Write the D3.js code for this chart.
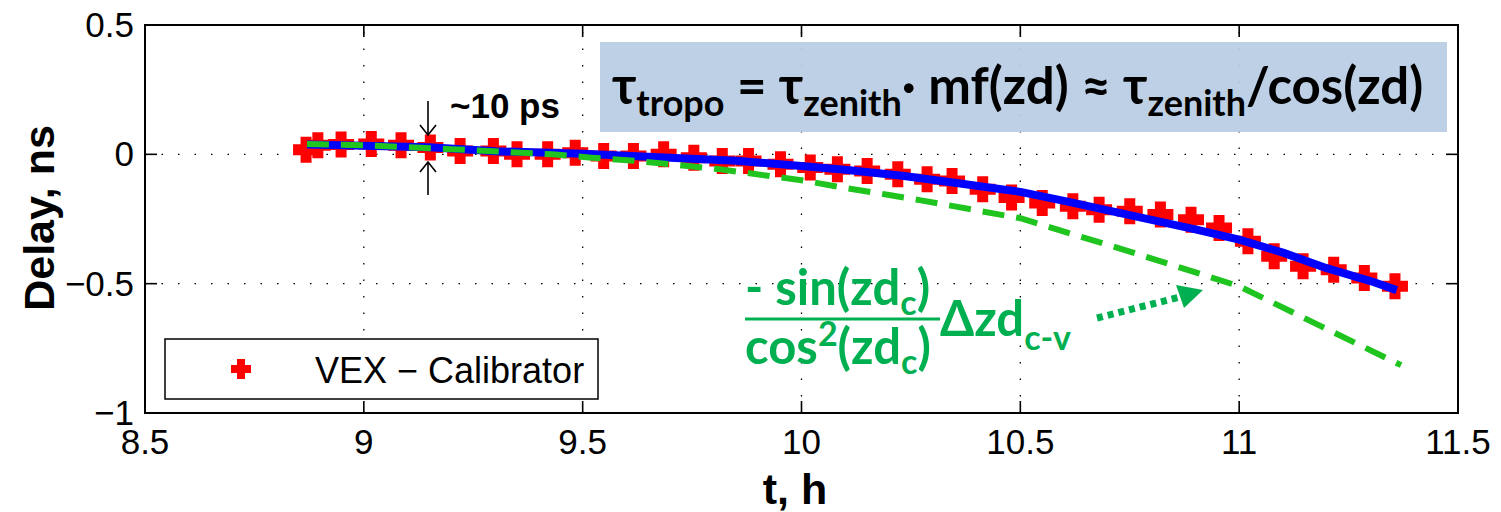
<!DOCTYPE html>
<html>
<head>
<meta charset="utf-8">
<script src="https://cdn.jsdelivr.net/npm/d3@7.9.0/dist/d3.min.js"></script>
<style>
  body { margin: 0; background: #fff; }
  svg { display: block; }
  .tick-label { font-family: "Liberation Sans", Arial, sans-serif; font-size: 35px; fill: #000; }
  .title { font-family: "Liberation Sans", Arial, sans-serif; font-weight: bold; font-size: 43px; fill: #000; }
  .calibri { font-family: Lato, "Open Sans", sans-serif; font-weight: bold; }
</style>
</head>
<body>
<svg id="chart" width="1501" height="512"></svg>
<script>
// measured points (VEX - Calibrator)
const redT = [8.868, 8.895, 8.948, 9.017, 9.085, 9.152, 9.22, 9.296, 9.35, 9.42, 9.483, 9.548, 9.616,
  9.685, 9.754, 9.819, 9.879, 9.952, 10.02, 10.082, 10.15, 10.22, 10.287, 10.344, 10.414, 10.48,
  10.55, 10.62, 10.68, 10.75, 10.82, 10.89, 10.954, 11.02, 11.08, 11.146, 11.216, 11.286, 11.356];
const redD = [0.018, 0.035, 0.038, 0.04, 0.035, 0.026, 0.013, 0.013, 0, 0, 0.006, -0.006, -0.006,
  0, -0.013, -0.026, -0.026, -0.038, -0.051, -0.058, -0.064, -0.077, -0.096, -0.103, -0.135, -0.167,
  -0.188, -0.201, -0.214, -0.22, -0.233, -0.253, -0.285, -0.336, -0.394, -0.433, -0.446, -0.478, -0.51];

// blue fit line
const blueT = [8.87, 9.0, 9.15, 9.3, 9.5, 9.7, 9.85, 10.0, 10.1, 10.23, 10.35, 10.5, 10.6, 10.75,
  10.9, 11.0, 11.1, 11.2, 11.3, 11.36];
const blueD = [0.038, 0.033, 0.027, 0.012, 0.002, -0.013, -0.025, -0.045, -0.06, -0.083, -0.11, -0.145,
  -0.18, -0.235, -0.29, -0.33, -0.38, -0.44, -0.49, -0.525];

// green dashed model
const greenT = [8.87, 9.0, 9.2, 9.43, 9.52, 9.62, 9.81, 10.0, 10.1, 10.2, 10.27, 10.5, 10.75, 11.0, 11.19, 11.37];
const greenD = [0.04, 0.035, 0.02, 0.0, -0.013, -0.025, -0.057, -0.1, -0.13, -0.157, -0.177, -0.247,
  -0.376, -0.51, -0.667, -0.815];

const xTicks = [8.5, 9, 9.5, 10, 10.5, 11, 11.5];
const yTicks = [0.5, 0, -0.5, -1];
const yTickLabels = ["0.5", "0", "\u22120.5", "\u22121"];

const svg = d3.select("#chart");
const x = d3.scaleLinear().domain([8.5, 11.5]).range([145, 1458]);
const y = d3.scaleLinear().domain([-1, 0.5]).range([413, 25]);
const [x0, x1] = x.range();
const [yb, yt] = y.range();

// grid
const grid = svg.append("g").attr("stroke", "#000").attr("stroke-width", 1.3).attr("stroke-dasharray", "1.5,15");
xTicks.slice(1, -1).forEach(t => {
  grid.append("line").attr("x1", x(t)).attr("x2", x(t)).attr("y1", yb).attr("y2", yt);
});
yTicks.slice(1, -1).forEach(v => {
  grid.append("line").attr("x1", x0).attr("x2", x1).attr("y1", y(v)).attr("y2", y(v));
});

// formula box (slightly see-through like the slide)
svg.append("rect").attr("x", 600).attr("y", 42).attr("width", 847).attr("height", 90)
  .attr("fill", "#b8cce4").attr("fill-opacity", 0.93);

// axes (ticks inside on all four sides, matlab style)
const tl = 12;
const ax = svg.append("g").attr("stroke", "#000").attr("stroke-width", 1.6);
xTicks.forEach(t => {
  ax.append("line").attr("x1", x(t)).attr("x2", x(t)).attr("y1", yb).attr("y2", yb - tl);
  ax.append("line").attr("x1", x(t)).attr("x2", x(t)).attr("y1", yt).attr("y2", yt + tl);
});
yTicks.forEach(v => {
  ax.append("line").attr("x1", x0).attr("x2", x0 + tl).attr("y1", y(v)).attr("y2", y(v));
  ax.append("line").attr("x1", x1).attr("x2", x1 - tl).attr("y1", y(v)).attr("y2", y(v));
});
svg.append("rect").attr("x", x0).attr("y", yt).attr("width", x1 - x0).attr("height", yb - yt)
  .attr("fill", "none").attr("stroke", "#000").attr("stroke-width", 2);

svg.selectAll(".xl").data(xTicks).join("text").attr("class", "tick-label")
  .attr("x", d => x(d)).attr("y", 454).attr("text-anchor", "middle").text(d => d);
svg.selectAll(".yl").data(yTicks).join("text").attr("class", "tick-label")
  .attr("x", 134).attr("y", d => y(d) + 12).attr("text-anchor", "end").text((d, i) => yTickLabels[i]);

svg.append("text").attr("class", "title").attr("x", 795).attr("y", 504).attr("text-anchor", "middle").text("t, h");
svg.append("text").attr("class", "title").attr("transform", "translate(54,218) rotate(-90)")
  .attr("text-anchor", "middle").text("Delay, ns");

// plus marker
function plusPath(s, w) {
  const a = s / 2, b = w / 2;
  return `M${-a},${-b}H${-b}V${-a}H${b}V${-b}H${a}V${b}H${b}V${a}H${-b}V${b}H${-a}Z`;
}

const pts = redT.map((t, i) => ({ t, d: redD[i] }));
svg.append("g").selectAll("path").data(pts).join("path")
  .attr("transform", p => `translate(${x(p.t)},${y(p.d)})`)
  .attr("d", plusPath(26, 11)).attr("fill", "#ff0000");

const line = d3.line().x(p => x(p[0])).y(p => y(p[1]));
svg.append("path").attr("d", line(blueT.map((t, i) => [t, blueD[i]])))
  .attr("fill", "none").attr("stroke", "#0000ff").attr("stroke-width", 8).attr("stroke-linejoin", "round");
svg.append("path").attr("d", line(greenT.map((t, i) => [t, greenD[i]])))
  .attr("fill", "none").attr("stroke", "#1fc41f").attr("stroke-width", 6).attr("stroke-dasharray", "22,12");

// ~10 ps annotation
const ann = svg.append("g").attr("stroke", "#000").attr("stroke-width", 1.6).attr("fill", "none");
ann.append("line").attr("x1", 428).attr("x2", 428).attr("y1", 101).attr("y2", 135);
ann.append("path").attr("d", "M420,125L428,135L436,125");
ann.append("line").attr("x1", 428).attr("x2", 428).attr("y1", 195).attr("y2", 162);
ann.append("path").attr("d", "M420,172L428,162L436,172");
svg.append("text").attr("class", "title").attr("x", 450).attr("y", 118).style("font-size", "35px").text("~10 ps");

// formula
const f = svg.append("text").attr("class", "calibri").attr("x", 612).attr("y", 104)
  .style("font-size", "51px").attr("fill", "#000");
const fparts = [["\u03c4", 0], ["tropo", 1], [" = \u03c4", 0], ["zenith", 1], ["\u00b7 mf(zd) \u2248 \u03c4", 0],
  ["zenith", 1], ["/cos(zd)", 0]];
let prevSub = 0;
fparts.forEach(([s, sub]) => {
  f.append("tspan").attr("dy", (sub - prevSub) * 12).style("font-size", sub ? "36px" : "51px").text(s);
  prevSub = sub;
});

// green fraction annotation
const g = svg.append("g").attr("class", "calibri").attr("fill", "#00b050").style("font-size", "49px");
const num = g.append("text").attr("x", 745).attr("y", 305);
num.append("tspan").text("- sin(zd");
num.append("tspan").attr("dy", 10).style("font-size", "34px").text("c");
num.append("tspan").attr("dy", -10).text(")");
const den = g.append("text").attr("x", 745).attr("y", 364);
den.append("tspan").text("cos");
den.append("tspan").attr("dy", -18).style("font-size", "34px").text("2");
den.append("tspan").attr("dy", 18).text("(zd");
den.append("tspan").attr("dy", 10).style("font-size", "34px").text("c");
den.append("tspan").attr("dy", -10).text(")");
svg.append("line").attr("x1", 745).attr("x2", 940).attr("y1", 319).attr("y2", 319)
  .attr("stroke", "#00b050").attr("stroke-width", 3);
const dz = g.append("text").attr("x", 940).attr("y", 336);
dz.append("tspan").text("\u0394zd");
dz.append("tspan").attr("dy", 14).style("font-size", "34px").text("c-v");

svg.append("line").attr("x1", 1097).attr("y1", 318).attr("x2", 1180).attr("y2", 297)
  .attr("stroke", "#00b050").attr("stroke-width", 7).attr("stroke-dasharray", "6,5");
svg.append("path").attr("d", "M1176,285L1203,290L1184,308Z").attr("fill", "#00b050");

// legend
const lg = svg.append("g");
lg.append("rect").attr("x", 165).attr("y", 339).attr("width", 433).attr("height", 60)
  .attr("fill", "#fff").attr("stroke", "#000").attr("stroke-width", 1.5);
lg.append("path").attr("transform", "translate(241,369)").attr("d", plusPath(20, 8)).attr("fill", "#ff0000");
lg.append("text").attr("class", "tick-label").attr("x", 315).attr("y", 383).style("font-size", "36px")
  .text("VEX \u2212 Calibrator");
</script>
</body>
</html>
